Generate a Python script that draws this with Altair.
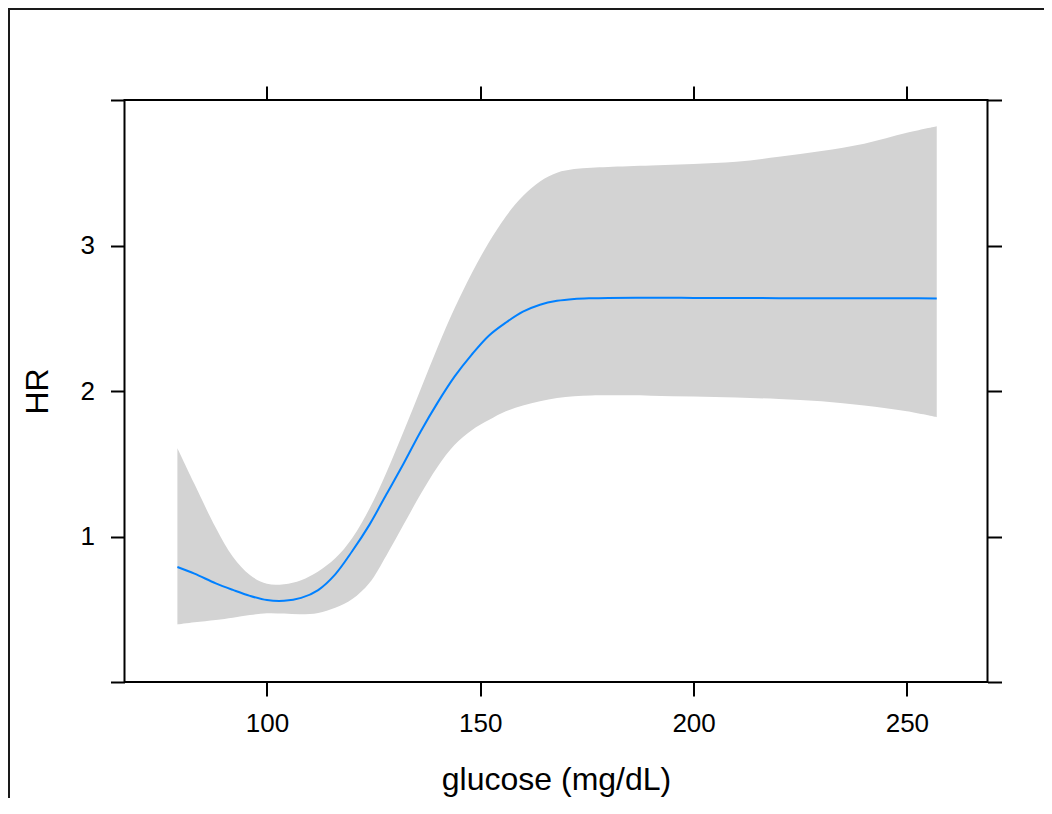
import altair as alt
import pandas as pd

glucose = [79, 83, 88, 92, 96, 100, 104, 108, 112, 116, 120, 124, 128, 132, 136, 140, 144, 148,
           152, 156, 160, 164, 168, 172, 176, 180, 190, 200, 210, 220, 230, 240, 250, 257]
hr = [0.79, 0.745, 0.678, 0.633, 0.592, 0.563, 0.558, 0.578, 0.632, 0.74, 0.90, 1.08, 1.29, 1.50,
      1.72, 1.92, 2.10, 2.25, 2.38, 2.47, 2.545, 2.593, 2.62, 2.633, 2.638, 2.64, 2.641, 2.64,
      2.639, 2.638, 2.638, 2.637, 2.637, 2.636]
lower = [0.395, 0.41, 0.426, 0.442, 0.46, 0.472, 0.47, 0.465, 0.475, 0.51, 0.57, 0.68, 0.87, 1.08,
         1.29, 1.48, 1.63, 1.73, 1.80, 1.86, 1.90, 1.93, 1.952, 1.964, 1.969, 1.97, 1.968, 1.962,
         1.955, 1.945, 1.93, 1.90, 1.86, 1.82]
upper = [1.606, 1.36, 1.06, 0.86, 0.735, 0.675, 0.672, 0.70, 0.76, 0.85, 0.99, 1.19, 1.44, 1.72,
         2.01, 2.30, 2.57, 2.81, 3.02, 3.20, 3.34, 3.44, 3.50, 3.525, 3.535, 3.54, 3.55, 3.56,
         3.575, 3.61, 3.65, 3.70, 3.775, 3.82]

x_ticks = [100, 150, 200, 250]
y_ticks = [0, 1, 2, 3, 4]

df = pd.DataFrame({"glucose": glucose, "hr": hr, "lower": lower, "upper": upper})

FONT = "Liberation Sans"
xs = alt.Scale(domain=[66.6, 268.9], nice=False, zero=False)
ys = alt.Scale(domain=[0, 4], nice=False, zero=False)

common = dict(domain=False, grid=False, tickColor="black", tickWidth=2, tickSize=14,
              labelFont=FONT, labelFontSize=26, labelColor="black",
              titleFont=FONT, titleFontSize=32, titleColor="black", titleFontWeight="normal")

bottom_axis = alt.Axis(orient="bottom", values=x_ticks, labelPadding=14, title="glucose (mg/dL)",
                       titleBaseline="alphabetic", titleY=107, **common)
left_axis = alt.Axis(orient="left", values=y_ticks, labelPadding=16, title="HR",
                     labelExpr="datum.value == 0 || datum.value == 4 ? '' : datum.label",
                     titleAngle=270, titleBaseline="alphabetic", titleX=-77.5, titleY=291,
                     **common)
top_axis = alt.Axis(orient="top", values=x_ticks, labels=False, title=None, **common)
right_axis = alt.Axis(orient="right", values=y_ticks, labels=False, title=None, **common)

frame = alt.Chart(pd.DataFrame({"k": [0]})).mark_rect(
    filled=False, color="#1a1a1a", strokeWidth=2
).encode(x=alt.value(-115.5), x2=alt.value(1000), y=alt.value(-91), y2=alt.value(900))

band = alt.Chart(df).mark_area(color="#d3d3d3", interpolate="catmull-rom").encode(
    x=alt.X("glucose:Q", scale=xs, axis=bottom_axis),
    y=alt.Y("lower:Q", scale=ys, axis=left_axis),
    y2="upper:Q",
)

line = alt.Chart(df).mark_line(color="#0080ff", strokeWidth=2, interpolate="catmull-rom").encode(
    x=alt.X("glucose:Q", scale=xs, axis=top_axis),
    y=alt.Y("hr:Q", scale=ys, axis=right_axis),
)

chart = alt.layer(frame, band, line).resolve_axis(
    x="independent", y="independent"
).properties(
    width=863, height=582,
    autosize=alt.AutoSizeParams(type="none"),
    padding={"left": 116.5, "top": 92, "right": 56.5, "bottom": 116},
).configure_view(stroke="black", strokeWidth=2)

chart.save("out.html", embed_options={"renderer": "svg", "actions": False})
